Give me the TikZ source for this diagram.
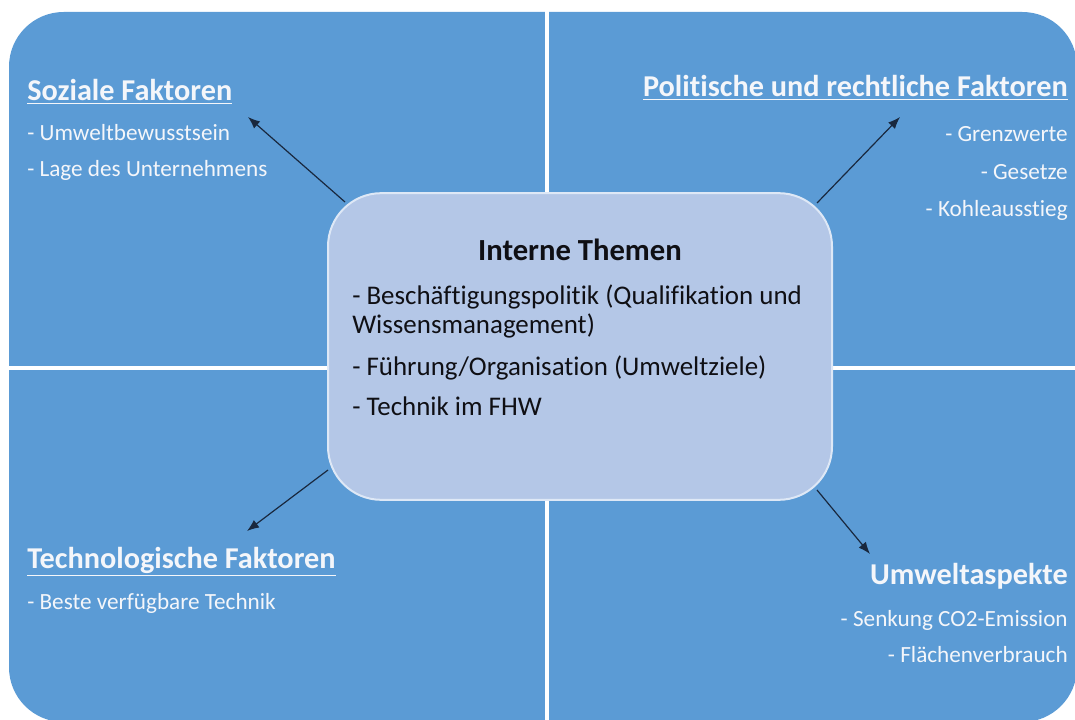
\documentclass[tikz,border=0pt]{standalone}
\usepackage{fontspec}
\setmainfont{Carlito}[Ligatures=NoCommon]
\usetikzlibrary{arrows.meta}
\definecolor{quadblue}{RGB}{91,155,213}
\definecolor{boxblue}{RGB}{180,199,231}
\definecolor{boxedge}{RGB}{222,232,246}
\definecolor{arrowcol}{RGB}{25,40,62}
\definecolor{lighttext}{RGB}{244,246,250}
\definecolor{darktext}{RGB}{15,15,20}
\tikzset{
  qtitle/.style={font=\fontsize{22.7}{25}\selectfont\bfseries, text=lighttext, inner sep=0pt},
  qitem/.style={font=\fontsize{17.4}{19}\selectfont, text=lighttext, inner sep=0pt},
  ctitle/.style={font=\fontsize{23}{25}\selectfont\bfseries, text=darktext, inner sep=0pt},
  citem/.style={font=\fontsize{20.2}{22}\selectfont, text=darktext, inner sep=0pt},
  centerbox/.style={draw=boxedge, line width=1.5pt, fill=boxblue, rounded corners=40pt,
    minimum width=378pt, minimum height=230pt, inner sep=0pt},
  conn/.style={draw=arrowcol, line width=0.9pt, -{Latex[length=9pt,width=7pt]}},
  divider/.style={draw=white, line width=2.5pt}
}
\begin{document}
\begin{tikzpicture}[x=0.75pt,y=-0.75pt]
\useasboundingbox (0,0) rectangle (1075,720);
% quadrants
\fill[quadblue, rounded corners=41pt] (9,12) rectangle (1077,722);
\draw[divider] (547,10) -- (547,722);
\draw[divider] (7,368) -- (1077,368);
% center box
\node[centerbox] (ct) at (580,346.5) {};
\node[ctitle, anchor=base] (cth) at (580,261) {Interne Themen};
\node[citem, anchor=base west] (c1) at (352,305) {- Beschäftigungspolitik (Qualifikation und};
\node[citem, anchor=base west] (c1b) at (352,334) {Wissensmanagement)};
\node[citem, anchor=base west] (c2) at (352,375) {- Führung/Organisation (Umweltziele)};
\node[citem, anchor=base west] (c3) at (352,415) {- Technik im FHW};
% top left
\node[qtitle, anchor=base west] (soz) at (27,101) {\underline{Soziale Faktoren}};
\node[qitem, anchor=base west] (soz1) at (27,141) {- Umweltbewusstsein};
\node[qitem, anchor=base west] (soz2) at (27,177) {- Lage des Unternehmens};
% top right
\node[qtitle, anchor=base east] (pol) at (1068,97) {\underline{Politische und rechtliche Faktoren}};
\node[qitem, anchor=base east] (pol1) at (1068,142) {- Grenzwerte};
\node[qitem, anchor=base east] (pol2) at (1068,180) {- Gesetze};
\node[qitem, anchor=base east] (pol3) at (1068,217) {- Kohleausstieg};
% bottom left
\node[qtitle, anchor=base west] (tec) at (27,568) {\underline{Technologische Faktoren}};
\node[qitem, anchor=base west] (tec1) at (27,609) {- Beste verfügbare Technik};
% bottom right
\node[qtitle, anchor=base east] (umw) at (1068,584) {Umweltaspekte};
\node[qitem, anchor=base east] (umw1) at (1068,626) {- Senkung CO2-Emission};
\node[qitem, anchor=base east] (umw2) at (1068,662) {- Flächenverbrauch};
% connector end points
\coordinate (s1) at (345,202);
\coordinate (t1) at (248,117);
\coordinate (s2) at (817,203);
\coordinate (t2) at (900,117);
\coordinate (s3) at (328,470);
\coordinate (t3) at (247,531);
\coordinate (s4) at (817,490);
\coordinate (t4) at (870,554);
\draw[conn] (s1) -- (t1);
\draw[conn] (s2) -- (t2);
\draw[conn] (s3) -- (t3);
\draw[conn] (s4) -- (t4);
\end{tikzpicture}
\end{document}
